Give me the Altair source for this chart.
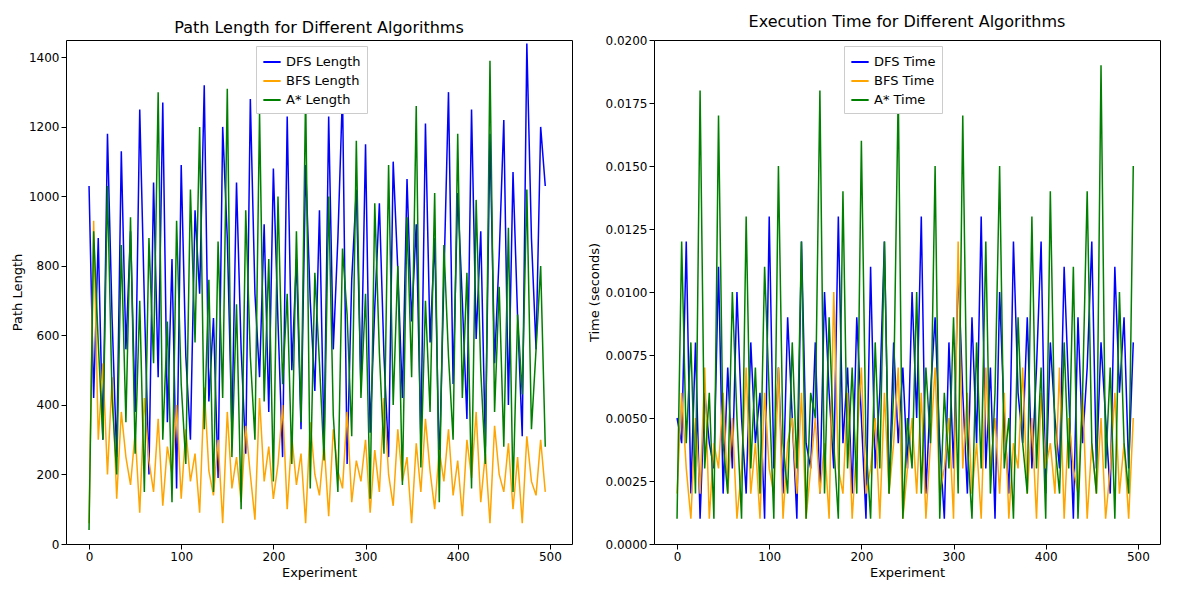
import altair as alt
import pandas as pd

experiments = list(range(0, 500, 5))

dfs_len = [1030,420,880,300,1180,650,250,1130,560,900,
380,1250,700,200,1040,480,1270,350,820,160,
1090,540,300,960,720,1320,410,650,190,1200,
880,330,1040,560,260,1280,720,480,920,380,
1080,640,250,1230,500,820,330,1090,700,440,
960,280,1230,560,880,1300,230,760,1020,450,
1150,320,680,980,540,250,1100,790,420,1050,
640,920,300,1210,580,880,220,760,1300,460,
1010,700,360,1250,590,900,280,1180,520,830,
1220,400,1070,650,310,1440,880,560,1200,1030]
bfs_len = [60,930,300,520,200,480,130,380,250,170,
320,90,420,240,150,360,110,280,200,400,
130,330,180,260,90,450,210,140,300,60,
380,160,250,120,340,200,70,420,180,280,
130,230,400,100,310,170,260,60,350,200,
140,290,80,330,210,160,380,120,240,180,
300,90,270,150,420,200,110,330,180,250,
60,290,150,360,210,100,270,180,330,140,
240,80,300,190,380,120,260,60,340,200,
150,290,100,250,60,310,180,140,300,150]
astar_len = [40,900,580,300,1030,420,200,860,350,940,
260,700,150,880,520,1300,300,640,120,930,
460,230,1020,580,1200,330,760,150,870,420,
1310,250,690,100,960,540,300,1240,410,820,
180,1000,460,720,230,900,350,1300,160,780,
520,240,1000,370,150,850,660,310,1160,420,
720,130,980,550,260,1090,400,800,170,940,
480,1260,220,700,380,1010,120,860,540,300,
1180,420,780,160,990,500,230,1390,380,740,
280,910,150,660,430,1020,330,560,800,280]

# times in milliseconds, converted below
dfs_ms = [5,4,12,2,8,1,6,4,3,11,
2,7,3,10,5,2,8,4,6,1,
13,3,7,2,9,5,1,12,4,3,
8,2,10,6,3,13,4,7,2,9,
5,1,11,3,6,12,2,8,4,7,
3,10,5,13,2,6,9,4,1,8,
3,11,6,2,9,4,13,3,7,1,
10,5,2,12,6,4,9,3,7,12,
2,8,5,3,11,6,1,9,4,7,
12,3,8,5,2,11,6,9,3,8]
bfs_ms = [2,6,3,1,5,2,7,1,4,3,
6,2,5,1,3,7,2,4,1,6,
3,2,7,1,4,5,2,6,1,3,
5,2,4,1,10,3,2,6,1,4,
7,2,3,5,1,6,2,4,7,1,
3,5,2,6,1,4,7,2,3,5,
1,12,3,6,2,4,1,7,3,5,
2,6,1,4,3,7,2,5,1,6,
3,4,2,7,1,5,3,2,6,1,
4,2,5,1,3,6,2,4,1,5]
astar_ms = [1,12,4,8,2,18,3,6,1,17,
4,2,10,5,1,13,3,7,2,11,
6,1,15,4,2,8,3,12,1,6,
5,18,2,9,4,1,14,3,7,2,
16,4,1,8,3,12,2,6,18,1,
5,3,10,2,7,4,15,1,6,3,
9,2,17,4,1,8,3,12,2,6,
15,3,5,1,9,4,2,13,3,7,
1,14,4,2,8,3,11,1,6,14,
4,2,19,3,7,1,10,4,2,15]

length_ticks = [0, 200, 400, 600, 800, 1000, 1200, 1400]
time_ticks = [0, 0.0025, 0.005, 0.0075, 0.01, 0.0125, 0.015, 0.0175, 0.02]

colors = ["blue", "orange", "green"]
FONT = "DejaVu Sans"


def panel(series, names, title, ytitle, ydomain, yfmt, yticks):
    layers = []
    for name, vals in zip(names, series):
        df = pd.DataFrame({"Experiment": experiments, "value": vals, "series": name})
        layers.append(alt.Chart(df).mark_line(strokeWidth=1.5, clip=True).encode(
            x=alt.X("Experiment:Q", scale=alt.Scale(domain=[-25, 524], nice=False),
                    axis=alt.Axis(values=[0, 100, 200, 300, 400, 500], title="Experiment")),
            y=alt.Y("value:Q", scale=alt.Scale(domain=ydomain, nice=False),
                    axis=alt.Axis(title=ytitle, format=yfmt, values=yticks)),
            color=alt.Color("series:N", scale=alt.Scale(domain=names, range=colors),
                            legend=alt.Legend(title=None, orient="none", legendX=190, legendY=6,
                                              symbolType="stroke", symbolStrokeWidth=2,
                                              fillColor="white", strokeColor="#cccccc",
                                              padding=6, labelFontSize=13, symbolSize=300)),
        ))
    return alt.layer(*layers).properties(
        width=506, height=504,
        title=alt.TitleParams(title, fontSize=16, fontWeight="normal", font=FONT))


left = panel([dfs_len, bfs_len, astar_len], ["DFS Length", "BFS Length", "A* Length"],
             "Path Length for Different Algorithms", "Path Length", [0, 1450], "d", length_ticks)
right = panel([[v / 1000 for v in dfs_ms], [v / 1000 for v in bfs_ms], [v / 1000 for v in astar_ms]],
              ["DFS Time", "BFS Time", "A* Time"],
              "Execution Time for Different Algorithms", "Time (seconds)", [0, 0.02], ".4f", time_ticks)

chart = alt.hconcat(left, right, spacing=14).resolve_scale(color="independent").configure_view(
    stroke="black", strokeWidth=1
).configure_axis(
    grid=False, domain=False, tickColor="black", labelColor="black", titleColor="black",
    labelFont=FONT, titleFont=FONT, labelFontSize=12, titleFontSize=13, titleFontWeight="normal",
).configure_legend(labelFont=FONT).properties(padding={"left": 2, "top": 5, "right": 5, "bottom": 5})

chart.save("out.html", embed_options={"renderer": "svg", "actions": False})
